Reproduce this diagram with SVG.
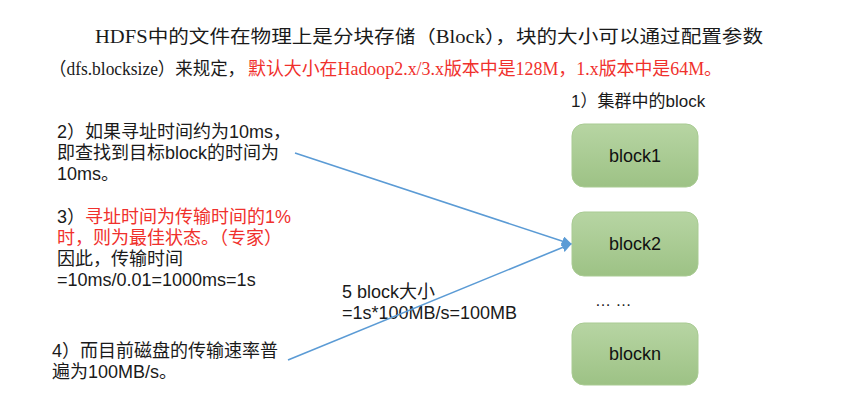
<svg xmlns="http://www.w3.org/2000/svg" width="844" height="413" viewBox="0 0 844 413">
<defs>
<linearGradient id="g" x1="0" y1="0" x2="0" y2="1">
<stop offset="0" stop-color="#b7d5a3"/>
<stop offset="1" stop-color="#9dc285"/>
</linearGradient>
<marker id="arr" viewBox="0 0 10 10" refX="9" refY="5" markerWidth="10" markerHeight="10" markerUnits="userSpaceOnUse" orient="auto">
<path d="M0,0 L10,5 L0,10 z" fill="#5b9bd5"/>
</marker>
<style>
.t{font-family:"Liberation Serif","Noto Sans CJK SC",serif;font-size:18px;fill:#1a1a1a}
.s{font-family:"Liberation Sans","Noto Sans CJK SC",sans-serif;font-size:18px;fill:#1a1a1a}
.r{fill:#f0302c}
.box{fill:url(#g);stroke:#a9cb93;stroke-width:1}
.bl{font-family:"Liberation Sans","Noto Sans CJK SC",sans-serif;font-size:18px;fill:#111;text-anchor:middle}
.c{stroke:#5b9bd5;stroke-width:1.6;fill:none}
</style>
</defs>
<rect width="844" height="413" fill="#ffffff"/>
<g id="title">
<text class="t" x="95" y="43" textLength="668" lengthAdjust="spacingAndGlyphs">HDFS中的文件在物理上是分块存储（Block），块的大小可以通过配置参数</text>
<text class="t" x="49" y="75" textLength="196" lengthAdjust="spacingAndGlyphs">（dfs.blocksize）来规定，</text>
<text class="t r" x="248" y="75" textLength="474" lengthAdjust="spacingAndGlyphs">默认大小在Hadoop2.x/3.x版本中是128M，1.x版本中是64M。</text>
</g>
<g id="note2">
<text class="s" x="57" y="138">2）如果寻址时间约为10ms，</text>
<text class="s" x="57" y="159">即查找到目标block的时间为</text>
<text class="s" x="57" y="180">10ms。</text>
</g>
<g id="note3">
<text class="s" x="57" y="223">3）<tspan class="r">寻址时间为传输时间的1%</tspan></text>
<text class="s r" x="57" y="244">时，则为最佳状态。（专家）</text>
<text class="s" x="57" y="265">因此，传输时间</text>
<text class="s" x="57" y="286">=10ms/0.01=1000ms=1s</text>
</g>
<g id="note4">
<text class="s" x="52" y="357">4）而目前磁盘的传输速率普</text>
<text class="s" x="52" y="378">遍为100MB/s。</text>
</g>
<g id="note5">
<text class="s" x="342" y="298">5 block大小</text>
<text class="s" x="342" y="319">=1s*100MB/s=100MB</text>
</g>
<g id="cluster-label">
<text class="s" x="571" y="107" style="font-size:17px">1）集群中的block</text>
</g>
<g id="block1">
<rect class="box" x="572" y="124" width="126" height="63" rx="12"/>
<text class="bl" x="635" y="162">block1</text>
</g>
<g id="block2">
<rect class="box" x="572" y="212" width="126" height="64" rx="12"/>
<text class="bl" x="635" y="250">block2</text>
</g>
<g id="ellipsis">
<text class="s" x="595" y="306" style="font-size:16px">… …</text>
</g>
<g id="blockn">
<rect class="box" x="572" y="323" width="126" height="62" rx="12"/>
<text class="bl" x="635" y="360">blockn</text>
</g>
<g id="connectors">
<line class="c" x1="295" y1="153" x2="571" y2="244" marker-end="url(#arr)"/>
<line class="c" x1="288" y1="360" x2="571" y2="244" marker-end="url(#arr)"/>
</g>
</svg>
